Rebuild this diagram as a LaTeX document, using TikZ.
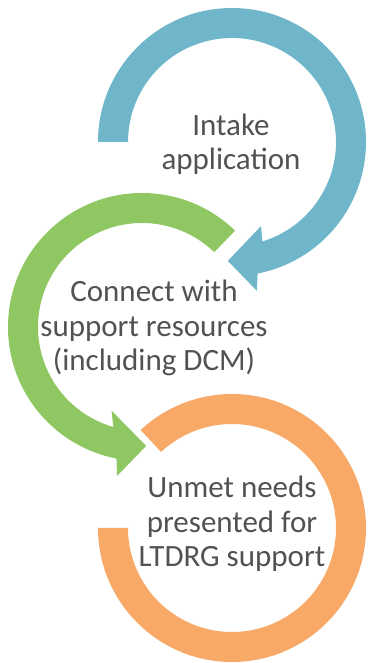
\documentclass[tikz,border=0pt]{standalone}
\usepackage{fontspec}
\setmainfont{Carlito}
\definecolor{cblue}{RGB}{111,182,203}
\definecolor{cgreen}{RGB}{143,200,99}
\definecolor{corange}{RGB}{248,168,103}
\definecolor{ctext}{RGB}{82,82,82}
\tikzset{
  band/.style={draw=none},
  label/.style={text=ctext, align=center, inner sep=0pt, anchor=base,
    font=\fontsize{31}{34.5}\selectfont}
}
\begin{document}
\begin{tikzpicture}[x=1pt,y=1pt]
\useasboundingbox (0,0) rectangle (367,663);
\coordinate (cb) at (232,521);
\coordinate (cg) at (142,336);
\coordinate (co) at (232,135);
% blue arrow
\fill[band, cblue, shift={(cb)}]
  (180:134) arc[start angle=180, end angle=-79, radius=134]
  -- (-80.5:151) -- (-92:119) -- (-71:89) -- (-73:104)
  arc[start angle=-73, end angle=180, radius=104] -- cycle;
% green arrow
\fill[band, cgreen, shift={(cg)}]
  (46:134) arc[start angle=46, end angle=259, radius=134]
  -- (260.5:151) -- (272:119) -- (250:89) -- (254:104)
  arc[start angle=254, end angle=46, radius=104] -- cycle;
% orange ring
\fill[band, corange, shift={(co)}]
  (180:134) arc[start angle=180, end angle=493, radius=134]
  -- (133:104) arc[start angle=493, end angle=180, radius=104] -- cycle;
\node[label] (t1) at (231,493) {Intake\\application};
\node[label] (t2) at (154,292) {Connect with\\support resources\\(including DCM)};
\node[label] (t3) at (232,96) {Unmet needs\\presented for\\LTDRG support};
\end{tikzpicture}
\end{document}
